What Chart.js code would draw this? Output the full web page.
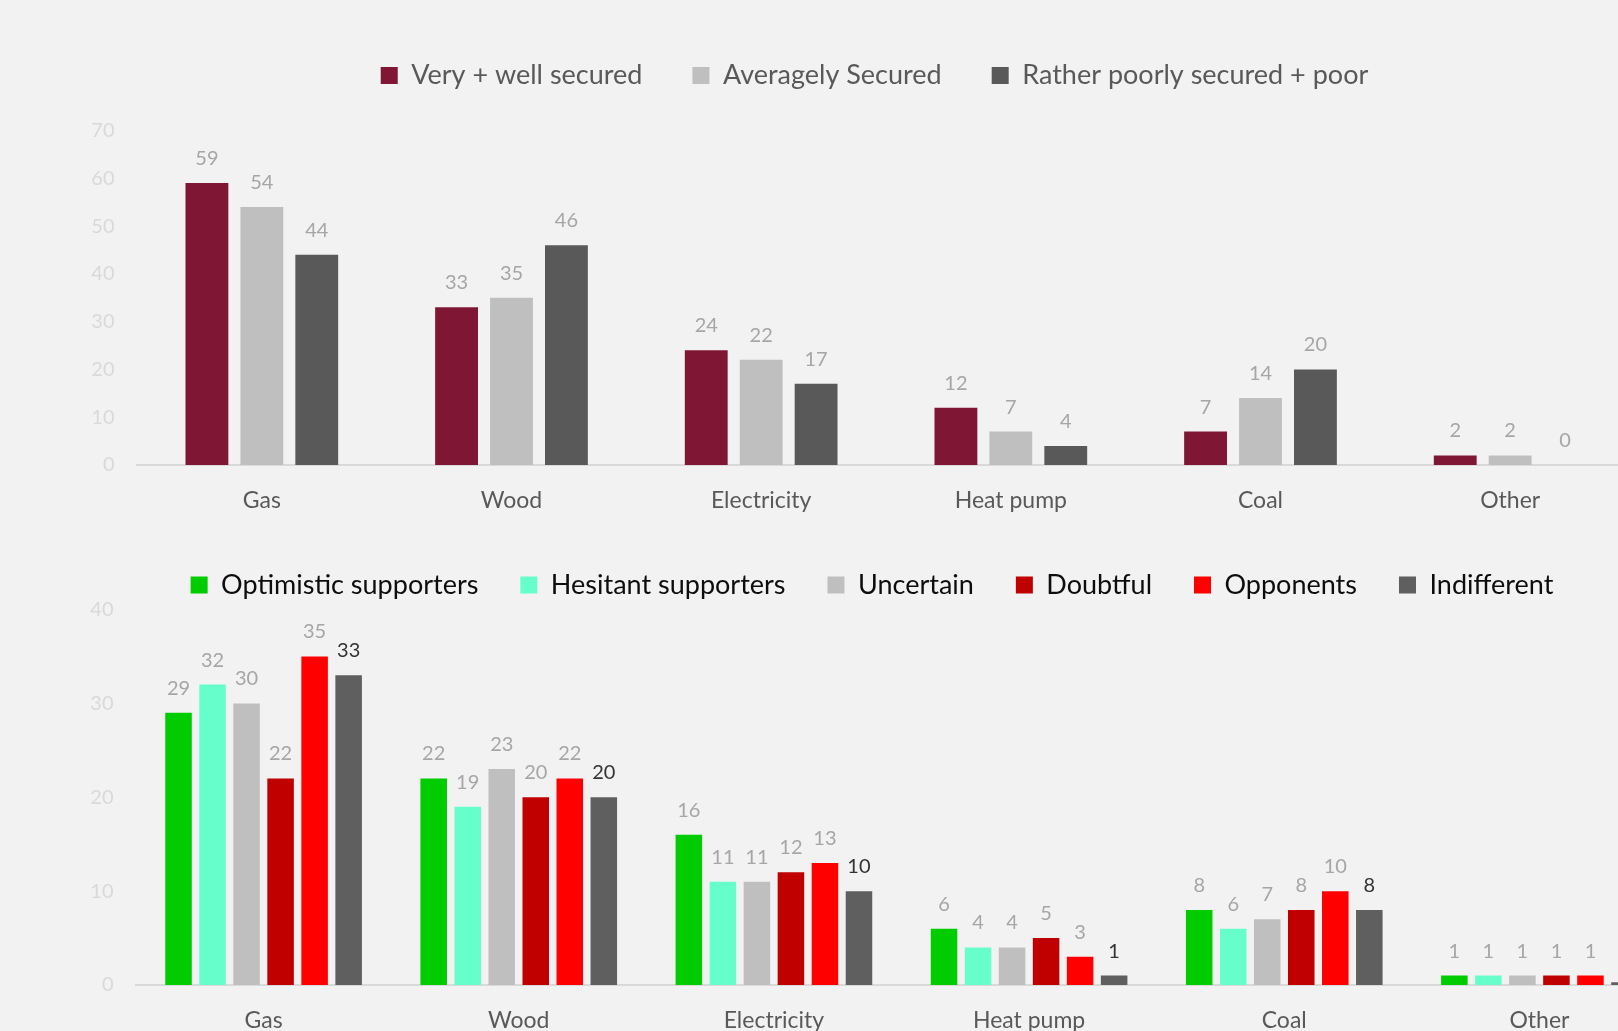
<!DOCTYPE html>
<html>
<head>
<meta charset="utf-8">
<script src="https://cdn.jsdelivr.net/npm/chart.js@4.4.1/dist/chart.umd.min.js"></script>
<style>
  html, body { margin: 0; padding: 0; background: #f2f2f2; overflow: hidden; }
  body { width: 1618px; height: 1031px; position: relative; }
  canvas { position: absolute; left: 0; }
  #securityChart { top: 0; }
  #attitudeChart { top: 520px; }
</style>
</head>
<body>
<canvas id="securityChart" width="1749" height="520"></canvas>
<canvas id="attitudeChart" width="1744" height="520"></canvas>
<script>
const heatingTypes = ['Gas', 'Wood', 'Electricity', 'Heat pump', 'Coal', 'Other'];

// supply security groups
const veryWellSecured = [59, 33, 24, 12, 7, 2];
const averagelySecured = [54, 35, 22, 7, 14, 2];
const ratherPoorlySecured = [44, 46, 17, 4, 20, 0];

// attitude groups
const optimisticSupporters = [29, 22, 16, 6, 8, 1];
const hesitantSupporters = [32, 19, 11, 4, 6, 1];
const uncertain = [30, 23, 11, 4, 7, 1];
const doubtful = [22, 20, 12, 5, 8, 1];
const opponents = [35, 22, 13, 3, 10, 1];
const indifferent = [33, 20, 10, 1, 8, 0.3];

const securityTicks = [0, 10, 20, 30, 40, 50, 60, 70];
const attitudeTicks = [0, 10, 20, 30, 40];

const FONT = 'Lato, "Open Sans", sans-serif';

// values written above each bar
const barLabels = {
  id: 'barLabels',
  afterDatasetsDraw(chart) {
    const ctx = chart.ctx;
    ctx.save();
    ctx.font = '20px ' + FONT;
    ctx.textAlign = 'center';
    ctx.textBaseline = 'alphabetic';
    chart.data.datasets.forEach((ds, i) => {
      chart.getDatasetMeta(i).data.forEach((bar, j) => {
        ctx.fillStyle = ds.labelColor || '#a6a6a6';
        ctx.fillText(Math.round(ds.data[j]), bar.x, bar.y - 18);
      });
    });
    ctx.restore();
  }
};

// extra room between legend and plot
const legendGap = {
  id: 'legendGap',
  beforeInit(chart) {
    const fit = chart.legend.fit;
    chart.legend.fit = function () {
      fit.bind(chart.legend)();
      this.height += chart.options.plugins.legendGap.gap;
    };
  }
};

function makeChart(id, datasets, ticks, opts) {
  return new Chart(document.getElementById(id), {
    type: 'bar',
    data: { labels: heatingTypes, datasets: datasets },
    plugins: [barLabels, legendGap],
    options: {
      responsive: false,
      animation: false,
      categoryPercentage: opts.cp,
      barPercentage: 0.78,
      layout: { padding: { left: 0, right: 0, top: opts.padTop, bottom: 0 } },
      plugins: {
        legendGap: { gap: opts.gap },
        tooltip: { enabled: false },
        legend: {
          position: 'top',
          labels: {
            font: { family: FONT, size: 27 },
            color: opts.legendColor,
            boxWidth: 17,
            boxHeight: 17,
            padding: opts.legendPadding
          }
        }
      },
      scales: {
        x: {
          grid: { display: false, drawTicks: false },
          border: { display: true, color: '#d9d9d9', width: 2 },
          ticks: { font: { family: FONT, size: 23 }, color: '#595959', padding: 22 },
          afterFit(scale) { scale.height = 55; }
        },
        y: {
          min: 0,
          max: ticks[ticks.length - 1],
          afterBuildTicks(scale) { scale.ticks = ticks.map(v => ({ value: v })); },
          grid: { display: false, drawTicks: false },
          border: { display: false },
          ticks: { font: { family: FONT, size: 20 }, color: '#d9d9d9', padding: 22.5 },
          afterFit(scale) { scale.width = opts.axisWidth; }
        },
        // empty strip on the right so the legend sits over the middle of the page
        spacer: {
          type: 'linear',
          position: 'right',
          grid: { display: false, drawTicks: false },
          border: { display: false },
          ticks: { display: false },
          afterFit(scale) { scale.width = opts.spacer; }
        }
      }
    }
  });
}

makeChart('securityChart', [
  { label: 'Very + well secured', data: veryWellSecured, backgroundColor: '#7f1734' },
  { label: 'Averagely Secured', data: averagelySecured, backgroundColor: '#bfbfbf' },
  { label: 'Rather poorly secured + poor', data: ratherPoorlySecured, backgroundColor: '#595959' }
], securityTicks, {
  cp: 0.66, axisWidth: 137, spacer: 114, padTop: 12, gap: 31.5,
  legendPadding: 50, legendColor: '#595959'
});

makeChart('attitudeChart', [
  { label: 'Optimistic supporters', data: optimisticSupporters, backgroundColor: '#00cc00' },
  { label: 'Hesitant supporters', data: hesitantSupporters, backgroundColor: '#66ffcc' },
  { label: 'Uncertain', data: uncertain, backgroundColor: '#bfbfbf' },
  { label: 'Doubtful', data: doubtful, backgroundColor: '#c00000' },
  { label: 'Opponents', data: opponents, backgroundColor: '#ff0000' },
  { label: 'Indifferent', data: indifferent, backgroundColor: '#5f5f5f', labelColor: '#333333' }
], attitudeTicks, {
  cp: 0.8, axisWidth: 136, spacer: 77, padTop: 9.5, gap: 1,
  legendPadding: 42, legendColor: '#0d0d0d'
});
</script>
</body>
</html>
